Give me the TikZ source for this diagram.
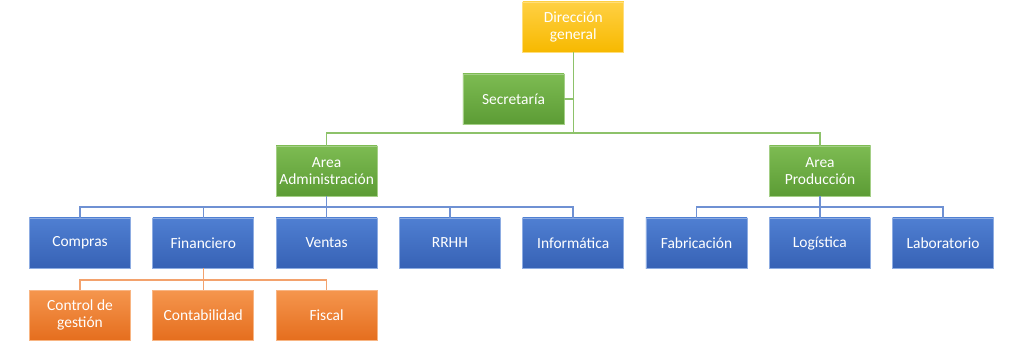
\documentclass[tikz,border=0pt]{standalone}
\usepackage{fontspec}
\setmainfont{Carlito}
\definecolor{goldtop}{HTML}{FFD043}
\definecolor{goldbot}{HTML}{F7B900}
\definecolor{greentop}{HTML}{7DBB52}
\definecolor{greenbot}{HTML}{5C9C35}
\definecolor{bluetop}{HTML}{4F7FD2}
\definecolor{bluebot}{HTML}{3762B5}
\definecolor{orangetop}{HTML}{F5964E}
\definecolor{orangebot}{HTML}{E56E1E}
\definecolor{greenline}{HTML}{8DC26A}
\definecolor{blueline}{HTML}{6F91D3}
\definecolor{orangeline}{HTML}{F3A26D}
\tikzset{
  unit/.style={minimum width=2.525cm,minimum height=1.25cm,inner sep=1pt,align=center,
    text=white,font=\fontsize{11}{12.5}\selectfont,line width=0.6pt},
  goldbox/.style={unit,top color=goldtop,bottom color=goldbot,draw=goldtop!70!white},
  greenbox/.style={unit,top color=greentop,bottom color=greenbot,draw=greentop!70!white},
  bluebox/.style={unit,top color=bluetop,bottom color=bluebot,draw=bluetop!65!white},
  orangebox/.style={unit,top color=orangetop,bottom color=orangebot,draw=orangetop!70!white},
  glink/.style={draw=greenline,line width=1.1pt},
  blink/.style={draw=blueline,line width=1.1pt},
  olink/.style={draw=orangeline,line width=1.1pt}
}
\begin{document}
\begin{tikzpicture}[x=0.025cm,y=-0.025cm]
\fill[white] (0,0) rectangle (1024,343);
\useasboundingbox (0,0) rectangle (1024,343);
% top levels
\node[goldbox] (dir) at (573.3,27) {Dirección\\general};
\node[greenbox] (sec) at (513.5,99) {Secretaría};
\node[greenbox] (adm) at (326.6,171) {Area\\Administración};
\node[greenbox] (prod) at (820,171) {Area\\Producción};
% departments
\foreach \n/\k/\t in {comp/0/Compras,fin/1/Financiero,ven/2/Ventas,rrhh/3/RRHH,inf/4/Informática,fab/5/Fabricación,log/6/Logística,lab/7/Laboratorio}
  \node[bluebox] (\n) at (80+123.3*\k,243) {\t};
% sections under Financiero
\node[orangebox] (ctrl) at (80,315) {Control de\\gestión};
\node[orangebox] (cont) at (203.3,315) {Contabilidad};
\node[orangebox] (fisc) at (326.6,315) {Fiscal};
% connectors
\coordinate (gbus) at (573.3,133);
\coordinate (abus) at (326.6,207);
\coordinate (pbus) at (820,207);
\coordinate (fbus) at (203.3,280);
\draw[glink] (dir) -- (gbus);
\draw[glink] (sec.east) -- (sec.east -| dir);
\draw[glink] (adm.north) |- (gbus) -| (prod.north);
\draw[blink] (adm) -- (abus);
\foreach \n in {comp,fin,ven,rrhh,inf}
  \draw[blink] (\n.north) |- (abus);
\draw[blink] (prod) -- (pbus);
\foreach \n in {fab,log,lab}
  \draw[blink] (\n.north) |- (pbus);
\draw[olink] (fin) -- (fbus);
\foreach \n in {ctrl,cont,fisc}
  \draw[olink] (\n.north) |- (fbus);
\end{tikzpicture}
\end{document}
